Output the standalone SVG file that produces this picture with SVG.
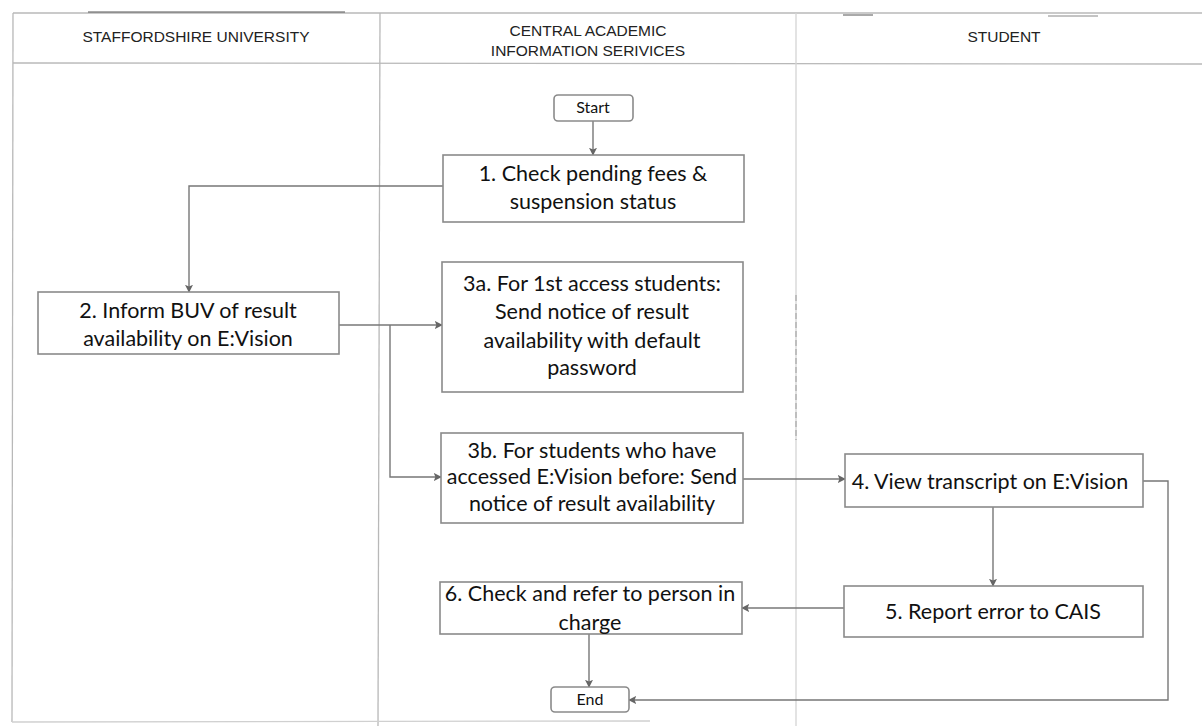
<svg xmlns="http://www.w3.org/2000/svg" width="1202" height="726" viewBox="0 0 1202 726">
<defs>
<style>
.frame{stroke:#b8b8b8;stroke-width:1.3;fill:none}
.scan{stroke:#555;stroke-width:1;fill:none}
.box{fill:#fff;stroke:#8a8a8a;stroke-width:1.6}
.lane{font-family:"Liberation Sans",Arial,sans-serif;font-size:15.5px;fill:#222;text-anchor:middle}
.t{font-family:Lato,"Open Sans",sans-serif;font-size:21.5px;fill:#111;text-anchor:middle}
.ts{font-family:Lato,"Open Sans",sans-serif;font-size:16px;fill:#111;text-anchor:middle}
.c{stroke:#777;stroke-width:1.4;fill:none}
</style>
<marker id="ah" viewBox="0 0 10 10" refX="9" refY="5" markerWidth="8" markerHeight="8" markerUnits="userSpaceOnUse" orient="auto">
<path d="M0,0 L10,5 L0,10 L2,5 z" fill="#666"/>
</marker>
</defs>
<rect width="1202" height="726" fill="#fff"/>
<g id="lanes">
<line class="frame" x1="13" y1="13" x2="1202" y2="13"/>
<line class="frame" x1="13" y1="63" x2="1202" y2="64"/>
<line class="frame" x1="13" y1="13" x2="12" y2="722"/>
<line class="frame" x1="380" y1="13" x2="378" y2="726"/>
<line class="frame" x1="796" y1="13" x2="796" y2="726" style="stroke:#d4d4d4"/>
<line class="frame" x1="12" y1="722" x2="650" y2="721" style="stroke:#d0d0d0"/>
<line class="scan" x1="88" y1="12" x2="345" y2="12"/>
<line class="scan" x1="843" y1="15" x2="873" y2="15"/>
<line class="scan" x1="1048" y1="16" x2="1098" y2="16" style="stroke:#888"/>
<line class="scan" x1="796" y1="295" x2="796" y2="440" style="stroke:#999;stroke-dasharray:6 3"/>
<text class="lane" x="196" y="42">STAFFORDSHIRE UNIVERSITY</text>
<text class="lane" x="588" y="36">CENTRAL ACADEMIC</text>
<text class="lane" x="588" y="56">INFORMATION SERIVICES</text>
<text class="lane" x="1004" y="42">STUDENT</text>
</g>
<g id="connectors">
<path class="c" d="M593,121 V155" marker-end="url(#ah)"/>
<path class="c" d="M443,186 H189 V292" marker-end="url(#ah)"/>
<path class="c" d="M339,325 H442" marker-end="url(#ah)"/>
<path class="c" d="M390,325 V477 H441" marker-end="url(#ah)"/>
<path class="c" d="M743,479 H845" marker-end="url(#ah)"/>
<path class="c" d="M993,507 V586" marker-end="url(#ah)"/>
<path class="c" d="M844,608 H742" marker-end="url(#ah)"/>
<path class="c" d="M589,634 V687" marker-end="url(#ah)"/>
<path class="c" d="M1143,481 H1168 V700 H629" marker-end="url(#ah)"/>
</g>
<g id="start">
<rect class="box" x="554" y="95" width="79" height="26" rx="4"/>
<text class="ts" x="593" y="113">Start</text>
</g>
<g id="step1">
<rect class="box" x="443" y="155" width="301" height="67"/>
<text class="t" x="593" y="181">1. Check pending fees &amp;</text>
<text class="t" x="593" y="209">suspension status</text>
</g>
<g id="step2">
<rect class="box" x="38" y="292" width="301" height="62"/>
<text class="t" x="188" y="318">2. Inform BUV of result</text>
<text class="t" x="188" y="346">availability on E:Vision</text>
</g>
<g id="step3a">
<rect class="box" x="442" y="262" width="301" height="130"/>
<text class="t" x="592" y="291">3a. For 1st access students:</text>
<text class="t" x="592" y="319">Send notice of result</text>
<text class="t" x="592" y="348">availability with default</text>
<text class="t" x="592" y="375">password</text>
</g>
<g id="step3b">
<rect class="box" x="441" y="433" width="302" height="90"/>
<text class="t" x="592" y="458">3b. For students who have</text>
<text class="t" x="592" y="484">accessed E:Vision before: Send</text>
<text class="t" x="592" y="511">notice of result availability</text>
</g>
<g id="step4">
<rect class="box" x="845" y="454" width="298" height="53"/>
<text class="t" x="990" y="489">4. View transcript on E:Vision</text>
</g>
<g id="step5">
<rect class="box" x="844" y="586" width="299" height="51"/>
<text class="t" x="993" y="619">5. Report error to CAIS</text>
</g>
<g id="step6">
<rect class="box" x="440" y="582" width="302" height="52"/>
<text class="t" x="590" y="601">6. Check and refer to person in</text>
<text class="t" x="590" y="630">charge</text>
</g>
<g id="end">
<rect class="box" x="551" y="687" width="78" height="25" rx="4"/>
<text class="ts" x="590" y="705">End</text>
</g>
</svg>
